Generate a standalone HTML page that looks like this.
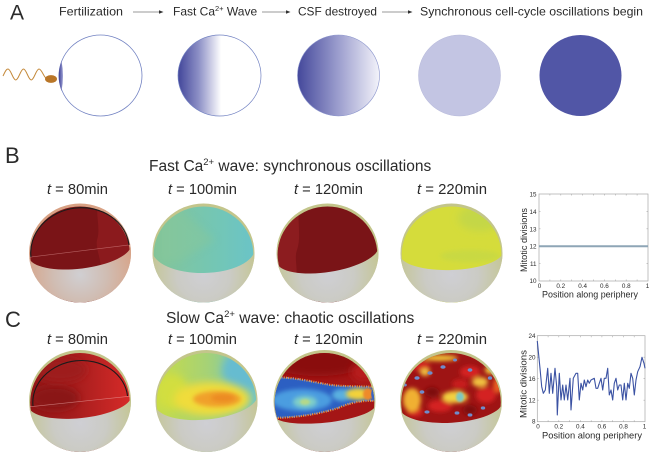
<!DOCTYPE html>
<html><head><meta charset="utf-8"><style>
html,body{margin:0;padding:0;background:#fff;}
svg{display:block;}
text{font-family:"Liberation Sans",sans-serif;fill:#2a2a2a;}
</style></head><body>
<svg width="651" height="455" viewBox="0 0 651 455" xmlns="http://www.w3.org/2000/svg">
<defs>
  <linearGradient id="g2" x1="0" y1="0" x2="1" y2="0">
    <stop offset="0" stop-color="#42469a"/><stop offset="0.25" stop-color="#8d90c6"/><stop offset="0.52" stop-color="#ffffff"/><stop offset="1" stop-color="#ffffff"/>
  </linearGradient>
  <linearGradient id="g3" x1="0" y1="0" x2="1" y2="0">
    <stop offset="0" stop-color="#44489b"/><stop offset="0.5" stop-color="#9c9ece"/><stop offset="1" stop-color="#f3f3fa"/>
  </linearGradient>
  <linearGradient id="gcres" x1="0" y1="0" x2="1" y2="0">
    <stop offset="0" stop-color="#3a3e95"/><stop offset="1" stop-color="#9fa2d4"/>
  </linearGradient>
  <radialGradient id="sphK" cx="0.5" cy="0.72" r="0.58">
    <stop offset="0" stop-color="#cfcfd4"/><stop offset="0.45" stop-color="#cbcbc5"/><stop offset="1" stop-color="#c3c58b"/>
  </radialGradient>
  <radialGradient id="sphS" cx="0.5" cy="0.72" r="0.58">
    <stop offset="0" stop-color="#d0cfd2"/><stop offset="0.45" stop-color="#d0bdb3"/><stop offset="1" stop-color="#d8a184"/>
  </radialGradient>
  <linearGradient id="gB2" x1="0" y1="0" x2="1" y2="0">
    <stop offset="0" stop-color="#84c598"/><stop offset="0.6" stop-color="#74c6b4"/><stop offset="1" stop-color="#6ac4c8"/>
  </linearGradient>
  <linearGradient id="gC1" x1="0" y1="0" x2="1" y2="0">
    <stop offset="0" stop-color="#901818"/><stop offset="0.45" stop-color="#a61d1d"/><stop offset="1" stop-color="#d82b29"/>
  </linearGradient>
  <linearGradient id="gC2" x1="0" y1="0" x2="1" y2="0">
    <stop offset="0" stop-color="#c8dc46"/><stop offset="0.5" stop-color="#a6d276"/><stop offset="1" stop-color="#6ec4c8"/>
  </linearGradient>
  <filter id="bl1" x="-50%" y="-50%" width="200%" height="200%"><feGaussianBlur stdDeviation="1"/></filter>
  <filter id="bl2" x="-50%" y="-50%" width="200%" height="200%"><feGaussianBlur stdDeviation="2"/></filter>
  <filter id="bl4" x="-50%" y="-50%" width="200%" height="200%"><feGaussianBlur stdDeviation="4"/></filter>

  <!-- inner clips -->
  <clipPath id="iB1"><ellipse cx="80" cy="254.5" rx="49.8" ry="48"/></clipPath>
  <clipPath id="iB2"><ellipse cx="203.5" cy="254.5" rx="49.8" ry="48"/></clipPath>
  <clipPath id="iB3"><ellipse cx="327.5" cy="254.5" rx="49.8" ry="48"/></clipPath>
  <clipPath id="iB4"><ellipse cx="451.5" cy="254.5" rx="49.8" ry="48"/></clipPath>
  <clipPath id="iC1"><ellipse cx="80" cy="402.5" rx="49.8" ry="49.5"/></clipPath>
  <clipPath id="iC2"><ellipse cx="206.5" cy="402.5" rx="49.8" ry="49.5"/></clipPath>
  <clipPath id="iC3"><ellipse cx="324.5" cy="402.5" rx="49.8" ry="49.5"/></clipPath>
  <clipPath id="iC4"><ellipse cx="451" cy="402.5" rx="49.8" ry="49.5"/></clipPath>
  <!-- bowl clips -->
  <clipPath id="bB1"><path d="M28.9,257.3 A51.5,18 -7 0 0 131.1,244.7 L140,244.7 L140,310 L20,310 L20,257.3 Z"/></clipPath>
  <clipPath id="bB2"><path d="M152,249.9 A51.5,24 -1 0 0 255,248.1 L262,248.1 L262,310 L145,310 L145,249.9 Z"/></clipPath>
  <clipPath id="bB3"><path d="M276.6,262.1 A51.5,18 -9 0 0 378.4,245.9 L386,245.9 L386,310 L268,310 L268,262.1 Z"/></clipPath>
  <clipPath id="bB4"><path d="M400,254.8 A51.5,17 -2 0 0 503,251.2 L510,251.2 L510,310 L392,310 L392,254.8 Z"/></clipPath>
  <clipPath id="bC1"><path d="M28.8,406.9 A51.5,17 -6 0 0 131.2,396.1 L140,396.1 L140,460 L20,460 L20,406.9 Z"/></clipPath>
  <clipPath id="bC2"><path d="M155.3,405.4 A51.5,20 -6 0 0 257.7,394.6 L266,394.6 L266,460 L147,460 L147,405.4 Z"/></clipPath>
  <clipPath id="bC3"><path d="M273.3,415.4 A51.5,13 -6 0 0 375.7,404.6 L384,404.6 L384,460 L265,460 L265,415.4 Z"/></clipPath>
  <clipPath id="bC4"><path d="M399.6,408.1 A51.5,18 -3.5 0 0 502.4,401.9 L510,401.9 L510,460 L392,460 L392,408.1 Z"/></clipPath>
  <clipPath id="band"><path d="M270,378 C285,376 305,380 325,384 C340,387 360,386 378,387 L378,401 C360,400 350,403 338,408 C320,414 295,418 270,418 Z"/></clipPath>
</defs>

<rect width="651" height="455" fill="#fff"/>

<!-- ============ PANEL A ============ -->
<text x="10" y="19.5" font-size="21">A</text>
<text x="59" y="15.5" font-size="12" textLength="64" lengthAdjust="spacingAndGlyphs">Fertilization</text>
<line x1="133" y1="12" x2="160" y2="12" stroke="#9a9a9a" stroke-width="0.9"/>
<path d="M159,10.3 L163.5,12 L159,13.7 Z" fill="#333"/>
<text x="173" y="15.5" font-size="12">Fast Ca<tspan dy="-4.5" font-size="7.5">2+</tspan><tspan dy="4.5"> Wave</tspan></text>
<line x1="262" y1="12" x2="287" y2="12" stroke="#9a9a9a" stroke-width="0.9"/>
<path d="M286,10.3 L290.5,12 L286,13.7 Z" fill="#333"/>
<text x="298" y="15.5" font-size="12" textLength="79" lengthAdjust="spacingAndGlyphs">CSF destroyed</text>
<line x1="382" y1="12" x2="409" y2="12" stroke="#9a9a9a" stroke-width="0.9"/>
<path d="M408,10.3 L412.5,12 L408,13.7 Z" fill="#333"/>
<text x="420" y="15.5" font-size="12" textLength="223" lengthAdjust="spacingAndGlyphs">Synchronous cell-cycle oscillations begin</text>

<!-- sperm -->
<path d="M3,76 C5,72 6,69 8,69 C10.8,69 12.95,80 15.75,80 C18.55,80 20.7,69 23.5,69 C26.3,69 28.45,80 31.25,80 C34.05,80 36.2,69 39,69 C41.8,69 43.95,78 46.75,78.5" fill="none" stroke="#c4893a" stroke-width="1"/>
<ellipse cx="51" cy="79" rx="6" ry="3.9" fill="#b97628"/>

<!-- circles -->
<ellipse cx="100.5" cy="75.5" rx="41.5" ry="40.5" fill="#fff" stroke="#7282c2" stroke-width="0.8"/>
<path d="M61.5,61 Q56,76 61.5,91 Q64.5,76 61.5,61 Z" fill="url(#gcres)"/>
<ellipse cx="219.5" cy="75.5" rx="41.5" ry="40.5" fill="url(#g2)" stroke="#7282c2" stroke-width="0.7"/>
<ellipse cx="338.5" cy="75.5" rx="41" ry="40.5" fill="url(#g3)" stroke="#8a94cc" stroke-width="0.6"/>
<ellipse cx="459.5" cy="75.5" rx="41" ry="40.5" fill="#c3c5e3" stroke="#b5b8da" stroke-width="0.5"/>
<ellipse cx="580.5" cy="75.5" rx="41" ry="40.5" fill="#5156a6"/>

<!-- ============ PANEL B ============ -->
<text x="5" y="163" font-size="22">B</text>
<text x="149" y="171" font-size="15.5">Fast Ca<tspan dy="-6" font-size="9.5">2+</tspan><tspan dy="6"> wave: synchronous oscillations</tspan></text>

<text x="47" y="194" font-size="14.7" textLength="61" lengthAdjust="spacingAndGlyphs"><tspan font-style="italic">t</tspan> = 80min</text>
<text x="168" y="194" font-size="14.7" textLength="69" lengthAdjust="spacingAndGlyphs"><tspan font-style="italic">t</tspan> = 100min</text>
<text x="294" y="194" font-size="14.7" textLength="69" lengthAdjust="spacingAndGlyphs"><tspan font-style="italic">t</tspan> = 120min</text>
<text x="417" y="194" font-size="14.7" textLength="70" lengthAdjust="spacingAndGlyphs"><tspan font-style="italic">t</tspan> = 220min</text>

<!-- B1 -->
<ellipse cx="80" cy="253" rx="51" ry="49.5" fill="url(#sphS)"/>
<g clip-path="url(#iB1)">
  <rect x="28" y="200" width="104" height="105" fill="#7a1417"/>
  <path d="M98,200 C95,215 101,228 97,240 C95,250 103,260 100,275 L135,275 L135,200 Z" fill="#8b1a1d"/>
</g>
<ellipse cx="80" cy="253" rx="51" ry="49.5" fill="url(#sphS)" clip-path="url(#bB1)"/>
<line x1="29.5" y1="257.2" x2="130.5" y2="244.8" stroke="#e8a0a0" stroke-opacity="0.55" stroke-width="0.6"/>
<path d="M31,257 A48,42 -7 0 1 129,245" fill="none" stroke="#1b1b1b" stroke-width="1.1"/>

<!-- B2 -->
<ellipse cx="203.5" cy="253" rx="51" ry="49.5" fill="url(#sphK)"/>
<g clip-path="url(#iB2)">
  <rect x="152" y="200" width="104" height="105" fill="url(#gB2)"/>
  <path d="M175,205 L215,240 L178,262 L160,262 L160,205 Z" fill="#88c79a" opacity="0.5" filter="url(#bl4)"/>
</g>
<ellipse cx="203.5" cy="253" rx="51" ry="49.5" fill="url(#sphK)" clip-path="url(#bB2)"/>

<!-- B3 -->
<ellipse cx="327.5" cy="253" rx="51" ry="49.5" fill="url(#sphK)"/>
<g clip-path="url(#iB3)">
  <rect x="276" y="200" width="104" height="105" fill="#7a1417"/>
  <path d="M276,200 L300,200 C296,220 302,235 297,250 C294,258 298,268 296,275 L276,275 Z" fill="#8c1c1f"/>
</g>
<ellipse cx="327.5" cy="253" rx="51" ry="49.5" fill="url(#sphK)" clip-path="url(#bB3)"/>

<!-- B4 -->
<ellipse cx="451.5" cy="253" rx="51" ry="49.5" fill="url(#sphK)"/>
<g clip-path="url(#iB4)">
  <rect x="400" y="200" width="104" height="105" fill="#d5dc3b"/>
  <ellipse cx="480" cy="218" rx="22" ry="13" fill="#c4d746" filter="url(#bl4)"/>
  <ellipse cx="470" cy="256" rx="30" ry="6" fill="#c9d942" filter="url(#bl2)"/>
</g>
<ellipse cx="451.5" cy="253" rx="51" ry="49.5" fill="url(#sphK)" clip-path="url(#bB4)"/>

<!-- B plot -->
<g>
  <rect x="539" y="194" width="109" height="87" fill="none" stroke="#a8a8a8" stroke-width="0.7"/>
  <g stroke="#a8a8a8" stroke-width="0.6">
    <path d="M549.9,194v1.5M560.8,194v1.5M571.7,194v1.5M582.6,194v1.5M593.5,194v1.5M604.4,194v1.5M615.3,194v1.5M626.2,194v1.5M637.1,194v1.5"/>
    <path d="M549.9,281v-1.5M560.8,281v-1.5M571.7,281v-1.5M582.6,281v-1.5M593.5,281v-1.5M604.4,281v-1.5M615.3,281v-1.5M626.2,281v-1.5M637.1,281v-1.5"/>
    <path d="M539,211.4h1.5M539,228.8h1.5M539,246.2h1.5M539,263.6h1.5M648,211.4h-1.5M648,228.8h-1.5M648,246.2h-1.5M648,263.6h-1.5"/>
  </g>
  <line x1="539" y1="246.2" x2="648" y2="246.2" stroke="#8ea5b6" stroke-width="2"/>
  <g font-size="6.3" text-anchor="end">
    <text x="536.5" y="196.5" fill="#555">15</text>
    <text x="536.5" y="213.9" fill="#555">14</text>
    <text x="536.5" y="231.3" fill="#555">13</text>
    <text x="536.5" y="248.7" fill="#555">12</text>
    <text x="536.5" y="266.1" fill="#555">11</text>
    <text x="536.5" y="283" fill="#555">10</text>
  </g>
  <g font-size="6.3" text-anchor="middle">
    <text x="539.5" y="288" fill="#555">0</text>
    <text x="560.8" y="288" fill="#555">0.2</text>
    <text x="582.6" y="288" fill="#555">0.4</text>
    <text x="604.4" y="288" fill="#555">0.6</text>
    <text x="626.2" y="288" fill="#555">0.8</text>
    <text x="647.5" y="288" fill="#555">1</text>
  </g>
  <text x="542" y="297.5" font-size="9.1" textLength="96" lengthAdjust="spacingAndGlyphs" fill="#333">Position along periphery</text>
  <text transform="translate(527,240) rotate(-90)" font-size="9.1" text-anchor="middle" textLength="64" lengthAdjust="spacingAndGlyphs" fill="#333">Mitotic divisions</text>
</g>

<!-- ============ PANEL C ============ -->
<text x="5" y="327" font-size="22">C</text>
<text x="166" y="323" font-size="15.6">Slow Ca<tspan dy="-6" font-size="9.5">2+</tspan><tspan dy="6"> wave: chaotic oscillations</tspan></text>

<text x="47" y="344" font-size="14.7" textLength="61" lengthAdjust="spacingAndGlyphs"><tspan font-style="italic">t</tspan> = 80min</text>
<text x="168" y="344" font-size="14.7" textLength="69" lengthAdjust="spacingAndGlyphs"><tspan font-style="italic">t</tspan> = 100min</text>
<text x="294" y="344" font-size="14.7" textLength="69" lengthAdjust="spacingAndGlyphs"><tspan font-style="italic">t</tspan> = 120min</text>
<text x="417" y="344" font-size="14.7" textLength="70" lengthAdjust="spacingAndGlyphs"><tspan font-style="italic">t</tspan> = 220min</text>

<!-- C1 -->
<circle cx="80" cy="401" r="51" fill="url(#sphK)"/>
<g clip-path="url(#iC1)">
  <rect x="28" y="348" width="104" height="106" fill="url(#gC1)"/>
  <ellipse cx="55" cy="398" rx="24" ry="12" fill="#8a1616" filter="url(#bl4)"/>
  <ellipse cx="60" cy="370" rx="26" ry="12" fill="#9e1b1b" filter="url(#bl4)"/>
</g>
<circle cx="80" cy="401" r="51" fill="url(#sphK)" clip-path="url(#bC1)"/>
<line x1="29.5" y1="406.8" x2="130.5" y2="396.2" stroke="#f0b0b0" stroke-opacity="0.6" stroke-width="0.6"/>
<path d="M33,406 A47,40 -6 0 1 127.5,396" fill="none" stroke="#1b1b1b" stroke-width="1.1"/>

<!-- C2 -->
<circle cx="206.5" cy="401" r="51" fill="url(#sphK)"/>
<g clip-path="url(#iC2)">
  <rect x="155" y="348" width="104" height="106" fill="url(#gC2)"/>
  <ellipse cx="244" cy="370" rx="22" ry="20" fill="#66bcd0" filter="url(#bl4)"/>
  <ellipse cx="172" cy="392" rx="16" ry="18" fill="#d2de40" filter="url(#bl4)"/>
  <ellipse cx="212" cy="399" rx="38" ry="17" fill="#f0dc3a" filter="url(#bl4)"/>
  <ellipse cx="217" cy="399" rx="24" ry="8" fill="#f0a02c" filter="url(#bl2)"/>
  <ellipse cx="223" cy="398" rx="12" ry="4" fill="#ec8a24" filter="url(#bl2)"/>
</g>
<circle cx="206.5" cy="401" r="51" fill="url(#sphK)" clip-path="url(#bC2)"/>

<!-- C3 -->
<circle cx="324.5" cy="401" r="51" fill="url(#sphK)"/>
<g clip-path="url(#iC3)">
  <rect x="273" y="348" width="104" height="106" fill="#a41616"/>
  <ellipse cx="318" cy="362" rx="48" ry="14" fill="#8a1010" filter="url(#bl4)"/>
  <ellipse cx="365" cy="372" rx="14" ry="10" fill="#b81c1c" filter="url(#bl4)"/>
  <g clip-path="url(#band)">
    <rect x="268" y="372" width="112" height="50" fill="#2c5fc2"/>
    <ellipse cx="302" cy="400" rx="30" ry="11" fill="#4b9de0" filter="url(#bl2)"/>
    <ellipse cx="342" cy="395" rx="10" ry="6" fill="#5ab0e0" filter="url(#bl2)"/>
    <ellipse cx="305" cy="402" rx="12" ry="6" fill="#80cfc8" filter="url(#bl2)"/>
    <ellipse cx="305" cy="402" rx="5" ry="3" fill="#b4d88a" filter="url(#bl1)"/>
    <ellipse cx="358" cy="394" rx="12" ry="6" fill="#f2d23a" filter="url(#bl2)"/>
    <ellipse cx="368" cy="394" rx="5" ry="6" fill="#ee8a2a" filter="url(#bl1)"/>
    <ellipse cx="374" cy="394" rx="2.8" ry="5" fill="#3864c6"/>
  </g>
  <path d="M270,378 C285,376 305,380 325,384 C340,387 360,386 378,387 M378,401 C360,400 350,403 338,408 C320,414 295,418 270,418" fill="none" stroke="#f0a040" stroke-width="2.2" stroke-dasharray="1 1.3"/>
  <path d="M270,378 C285,376 305,380 325,384 C340,387 360,386 378,387 M378,401 C360,400 350,403 338,408 C320,414 295,418 270,418" fill="none" stroke="#7a8ad0" stroke-width="1.5" stroke-dasharray="1.2 4.5"/>
</g>
<circle cx="324.5" cy="401" r="51" fill="url(#sphK)" clip-path="url(#bC3)"/>

<!-- C4 -->
<circle cx="451" cy="401" r="51" fill="url(#sphK)"/>
<g clip-path="url(#iC4)">
  <rect x="399" y="348" width="104" height="106" fill="#9e1414"/>
  <g filter="url(#bl2)">
    <ellipse cx="420" cy="366" rx="10" ry="5" fill="#d42222"/>
    <ellipse cx="470" cy="372" rx="10" ry="6" fill="#d42222"/>
    <ellipse cx="440" cy="406" rx="12" ry="6" fill="#d42222"/>
    <ellipse cx="486" cy="395" rx="10" ry="8" fill="#d42222"/>
    <ellipse cx="415" cy="412" rx="8" ry="5" fill="#d42222"/>
    <ellipse cx="460" cy="384" rx="8" ry="5" fill="#c81e1e"/>
    <ellipse cx="412" cy="400" rx="9" ry="12" fill="#f0b030"/>
    <ellipse cx="455" cy="397" rx="13" ry="6" fill="#f2d040"/>
    <ellipse cx="440" cy="358" rx="18" ry="3" fill="#f0c838"/>
    <ellipse cx="480" cy="382" rx="8" ry="5" fill="#f0c040"/>
    <ellipse cx="490" cy="370" rx="5" ry="4" fill="#f2d040"/>
    <ellipse cx="425" cy="372" rx="5" ry="4" fill="#eec040"/>
    <ellipse cx="432" cy="392" rx="7" ry="5" fill="#7e0e0e"/>
    <ellipse cx="470" cy="410" rx="7" ry="5" fill="#7e0e0e"/>
    <ellipse cx="498" cy="385" rx="5" ry="8" fill="#e86020"/>
  </g>
  <ellipse cx="460" cy="397" rx="4" ry="5" fill="#7ec8c0" filter="url(#bl1)"/>
  <g fill="#6f8ccb">
    <ellipse cx="443" cy="367" rx="2.6" ry="1.8"/>
    <ellipse cx="430" cy="373" rx="2.6" ry="1.8"/>
    <ellipse cx="470" cy="370" rx="2.4" ry="1.8"/>
    <ellipse cx="417" cy="378" rx="2.6" ry="1.8"/>
    <ellipse cx="490" cy="378" rx="2.2" ry="1.8"/>
    <ellipse cx="422" cy="392" rx="2.4" ry="1.8"/>
    <ellipse cx="483" cy="408" rx="2.2" ry="1.6"/>
    <ellipse cx="427" cy="412" rx="2.6" ry="1.6"/>
    <ellipse cx="457" cy="413" rx="2.4" ry="1.6"/>
    <ellipse cx="470" cy="415" rx="2.4" ry="1.6"/>
    <ellipse cx="455" cy="360" rx="2" ry="1.5"/>
    <ellipse cx="405" cy="385" rx="1.8" ry="1.5"/>
  </g>
</g>
<circle cx="451" cy="401" r="51" fill="url(#sphK)" clip-path="url(#bC4)"/>

<!-- C plot -->
<g>
  <rect x="537.3" y="335.7" width="107.7" height="86" fill="none" stroke="#a8a8a8" stroke-width="0.7"/>
  <g stroke="#a8a8a8" stroke-width="0.6">
    <path d="M548.1,335.7v1.5M558.8,335.7v1.5M569.6,335.7v1.5M580.4,335.7v1.5M591.2,335.7v1.5M601.9,335.7v1.5M612.7,335.7v1.5M623.5,335.7v1.5M634.2,335.7v1.5"/>
    <path d="M548.1,421.7v-1.5M558.8,421.7v-1.5M569.6,421.7v-1.5M580.4,421.7v-1.5M591.2,421.7v-1.5M601.9,421.7v-1.5M612.7,421.7v-1.5M623.5,421.7v-1.5M634.2,421.7v-1.5"/>
    <path d="M537.3,357.2h1.5M537.3,378.7h1.5M537.3,400.2h1.5M645,357.2h-1.5M645,378.7h-1.5M645,400.2h-1.5"/>
  </g>
  <polyline fill="none" stroke="#3b52a3" stroke-width="1.1" stroke-linejoin="round" points="537.3,341 540,368.3 541.7,386.7 543.3,393.3 545.3,390 547.7,368.3 549.3,393.3 551,373.3 552.7,393.3 555,368.3 556.7,386.7 557.3,415 559.3,373.3 561,400 562.7,385 564.3,400 566,385 567.7,400 570,378.3 571,410 573.3,378.3 576,373.3 577.7,373.3 579.3,400 581,383.3 582.7,390 584.3,380 586,386.7 587.7,380 589.3,383.3 591,380 594.3,378.3 596,388.3 597.7,388.3 599.3,383.3 601,378.3 602.7,390 604.3,378.3 606,378.3 607.7,368.3 609.3,395 611,390 612.7,400 614.3,383.3 616,378.3 617.7,390 619.3,385 621,385 622.7,400 624.3,383.3 626,400 627.7,383.3 629.3,388.3 631,373.3 632.7,378.3 634.3,395 636,380 637.7,371.7 640,366.7 642,357.3 644,363.3 645,368.3"/>
  <g font-size="6.3" text-anchor="end">
    <text x="535.5" y="338" fill="#555">24</text>
    <text x="535.5" y="359.5" fill="#555">20</text>
    <text x="535.5" y="381" fill="#555">16</text>
    <text x="535.5" y="402.5" fill="#555">12</text>
    <text x="535.5" y="423.5" fill="#555">8</text>
  </g>
  <g font-size="6.3" text-anchor="middle">
    <text x="538" y="428.5" fill="#555">0</text>
    <text x="558.8" y="428.5" fill="#555">0.2</text>
    <text x="580.4" y="428.5" fill="#555">0.4</text>
    <text x="601.9" y="428.5" fill="#555">0.6</text>
    <text x="623.5" y="428.5" fill="#555">0.8</text>
    <text x="644.5" y="428.5" fill="#555">1</text>
  </g>
  <text x="542" y="438.7" font-size="9.3" textLength="100" lengthAdjust="spacingAndGlyphs" fill="#333">Position along periphery</text>
  <text transform="translate(526.5,384) rotate(-90)" font-size="9.3" text-anchor="middle" textLength="68" lengthAdjust="spacingAndGlyphs" fill="#333">Mitotic divisions</text>
</g>
</svg>
</body></html>
